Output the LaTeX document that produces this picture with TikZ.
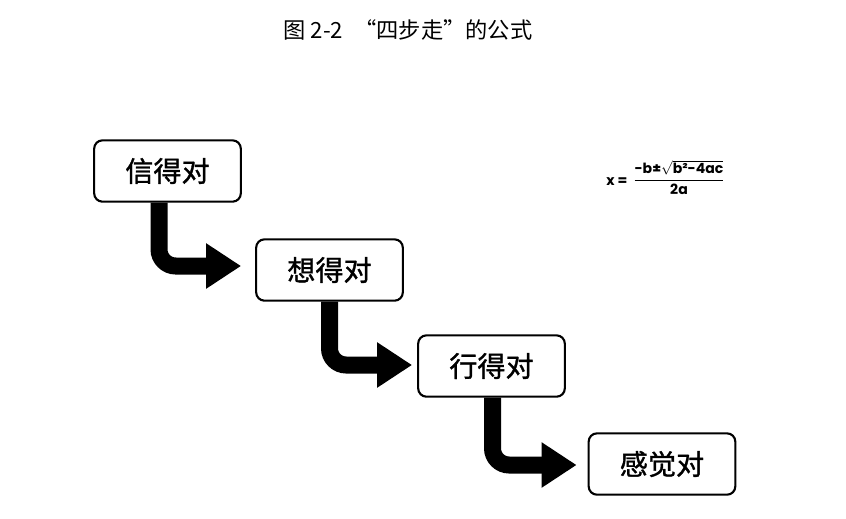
\documentclass[tikz,border=0pt]{standalone}
\usepackage{amsmath}
\usepackage{fontspec}
\usepackage{tikz}
\usetikzlibrary{positioning}
\usetikzlibrary{calc}
\usetikzlibrary{arrows.meta}
\newfontfamily\cjk{Noto Sans CJK SC}
\newfontfamily\cjkbox[FakeBold=1.2]{Noto Sans CJK SC}
\newfontfamily\fmlfont{Poppins}

\begin{document}
\begin{tikzpicture}[x=0.03cm, y=-0.03cm,
                        stepbox/.style={draw, line width=1.8pt, rounded corners=0.25cm,
                                        minimum width=4.4cm, minimum height=1.84cm,
                                        fill=white, font=\cjkbox\fontsize{24}{28}\selectfont},
                        bigarrow/.style={draw, line width=0.51cm, rounded corners=0.5cm,
                                         -{Triangle[length=1.05cm, width=1.29cm]}}]
        \useasboundingbox (0,0) rectangle (846,518);
        \node (title) at (408,30) {\cjk\fontsize{19}{23}\selectfont 图 2-2\enspace“四步走”的公式};
        % the four steps
        \node[stepbox] (xin) at (167.5,171) {信得对};
        \node[stepbox] (xiang) at (329.5,270) {想得对};
        \node[stepbox] (xing) at (491.5,366) {行得对};
        \node[stepbox] (gan) at (662,464) {感觉对};
        \draw[bigarrow] ($(xin.south)+(-8.5,0)$) |- ($(xiang.west)+(-14,-4)$);
        \draw[bigarrow] ($(xiang.south)+(0,0)$) |- ($(xing.west)+(-5,-1)$);
        \draw[bigarrow] ($(xing.south)+(1,0)$) |- ($(gan.west)+(-11,1)$);
        % formula
        \node[font=\fmlfont\bfseries\fontsize{12}{14}\selectfont] (x) at (617,182) {x =};
        \node[font=\fmlfont\bfseries\fontsize{12}{14}\selectfont] (frac) at (679,180)
            {$\dfrac{\text{-b±}\sqrt{\text{b²-4ac}}\vphantom{\big|}}{\vphantom{\big|}\text{2a}}$};
    \end{tikzpicture}
\end{document}
